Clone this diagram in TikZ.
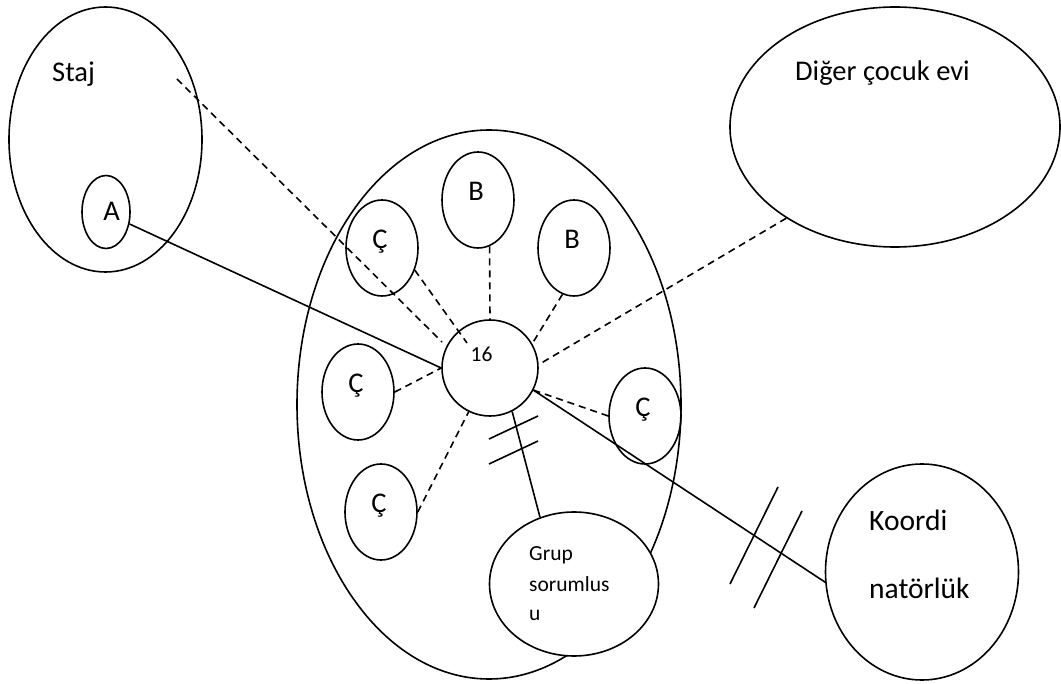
\documentclass[tikz,border=0pt]{standalone}
\usepackage{fontspec}
\setmainfont{Carlito}
\usetikzlibrary{shapes.geometric,calc}

\tikzset{
  ring/.style={ellipse,draw,line width=1.6pt,inner sep=0pt},
  kid/.style={ring,minimum width=72pt,minimum height=96pt},
  lbl/.style={inner sep=0pt,font=\fontsize{28.5}{34}\selectfont},
  small/.style={inner sep=0pt,font=\fontsize{21.5}{26}\selectfont},
  link/.style={line width=1.6pt},
  dlink/.style={line width=1.6pt,dash pattern=on 7pt off 5pt}
}

\begin{document}
\begin{tikzpicture}[x=1pt,y=-1pt]
                \useasboundingbox (0,0) rectangle (1061,684);
                % outer groups
                \node[ring,minimum width=193pt,minimum height=265pt] (staj) at (105.5,139.5) {};
                \node[ring,minimum width=48pt,minimum height=73pt] (a) at (106,212) {};
                \node[ring,minimum width=330pt,minimum height=240pt] (dig) at (895,127) {};
                \node[ring,minimum width=193pt,minimum height=216pt] (koord) at (922,572) {};
                % the home and what is in it
                \node[ring,minimum width=384pt,minimum height=549pt] (home) at (489,404.5) {};
                \node[ring,fill=white,minimum width=169pt,minimum height=144pt] (grup) at (574,584) {};
                \node[ring,circle,minimum size=96pt] (c16) at (490,368) {};
                \foreach \n/\x/\y/\t in {b1/478/200/B,b2/574/248/B,c1/382/248/Ç,c2/358/392/Ç,c3/381/512/Ç,c4/645/416/Ç} {
                    \node[kid] (\n) at (\x,\y) {};
                    \node[lbl,anchor=base] (\n-t) at ({\x-2},{\y+1}) {\t};
                }
                % texts
                \node[lbl,anchor=base west] (staj-t) at (52,82) {Staj};
                \node[lbl,anchor=base] (a-t) at (111.5,221) {A};
                \node[lbl,anchor=base west] (dig-t) at (795,81) {Diğer çocuk evi};
                \node[small,anchor=base] (c16-t) at (481.5,362) {16};
                \node[small,anchor=base west] (grup-t1) at (529,561) {Grup};
                \node[small,anchor=base west] (grup-t2) at (529,591) {sorumlus};
                \node[small,anchor=base west] (grup-t3) at (529,620) {u};
                \node[lbl,font=\fontsize{29.5}{35}\selectfont,anchor=base west] (koord-t1) at (869,531) {Koordi};
                \node[lbl,font=\fontsize{29.5}{35}\selectfont,anchor=base west] (koord-t2) at (869,598) {natörlük};
                % connectors
                \coordinate (staj-in) at (177,79);
                \draw[dlink] (staj-in) -- ($(c16)+(-48,-26)$);
                \draw[link] (a.-27) -- (c16.west);
                \draw[dlink] (b1.-76) -- (c16.north);
                \draw[dlink] (b2.256) -- (c16.30);
                \draw[dlink] (c1.-34) -- ($(c16)+(-23,-25)$);
                \draw[dlink] (c2.east) -- (c16.west);
                \draw[dlink] (c3.east) -- (c16.244);
                \draw[dlink] (c16.-27) -- (c4.west);
                \draw[dlink] (dig.220) -- (c16.4);
                \draw[link] (c16.-27) -- (koord.186);
                \draw[link] (c16.-63) -- (grup.117);
                % broken-link marks
                \draw[link] (489,439) -- (538,416);
                \draw[link] (489,464) -- (538,441);
                \draw[link] (778,487) -- (730,584);
                \draw[link] (802,511) -- (754,608);
            \end{tikzpicture}
\end{document}
